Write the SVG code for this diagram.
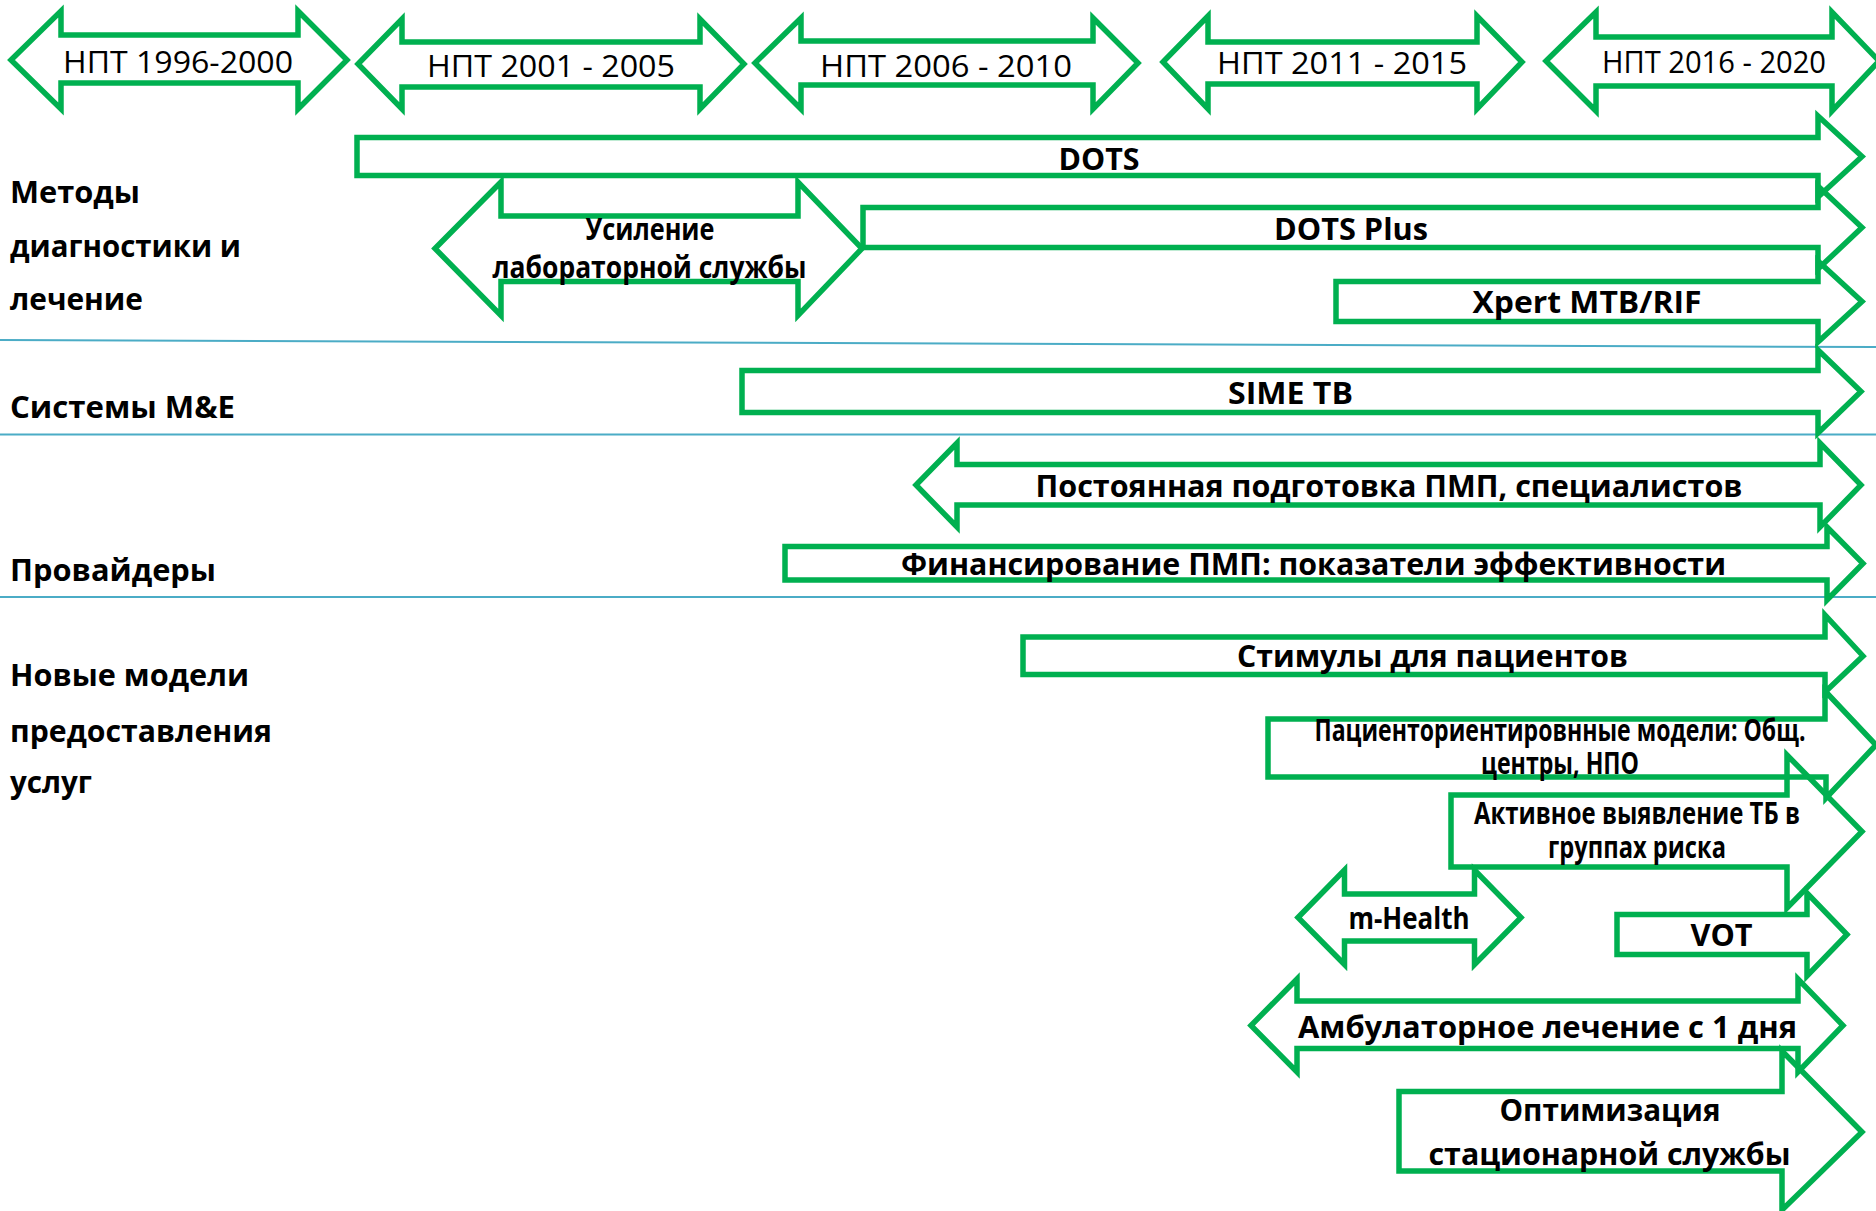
<svg xmlns="http://www.w3.org/2000/svg" width="1876" height="1211" viewBox="0 0 1876 1211">
<style>
.sep{stroke:#4BACC6;stroke-width:2;fill:none}
.arr{fill:none;stroke:#00B050;stroke-width:5.5;stroke-linejoin:miter;stroke-miterlimit:10}
.hd{font-family:"Open Sans","Liberation Sans",sans-serif;font-size:31px;fill:#000;text-anchor:middle}
.lab{font-family:"Open Sans","Liberation Sans",sans-serif;font-weight:bold;font-size:30px;fill:#000}
.bl{font-family:"Liberation Sans Narrow","Open Sans","Liberation Sans",sans-serif;font-weight:bold;font-size:30px;fill:#000;text-anchor:middle}
</style>
<rect width="1876" height="1211" fill="#fff"/>
<g id="separators">
<line class="sep" x1="0" y1="340" x2="1876" y2="347"/>
<line class="sep" x1="0" y1="434.5" x2="1876" y2="434.5"/>
<line class="sep" x1="0" y1="597" x2="1876" y2="597"/>
</g>
<g id="row-labels">
<text class="lab" x="10" y="203" textLength="130" lengthAdjust="spacingAndGlyphs">Методы</text>
<text class="lab" x="10" y="257" textLength="231" lengthAdjust="spacingAndGlyphs">диагностики и</text>
<text class="lab" x="10" y="310" textLength="133" lengthAdjust="spacingAndGlyphs">лечение</text>
<text class="lab" x="10" y="418" textLength="225" lengthAdjust="spacingAndGlyphs">Системы M&amp;E</text>
<text class="lab" x="10" y="581" textLength="206" lengthAdjust="spacingAndGlyphs">Провайдеры</text>
<text class="lab" x="10" y="686" textLength="239" lengthAdjust="spacingAndGlyphs">Новые модели</text>
<text class="lab" x="10" y="741.5" textLength="262" lengthAdjust="spacingAndGlyphs">предоставления</text>
<text class="lab" x="10" y="793" textLength="82" lengthAdjust="spacingAndGlyphs">услуг</text>
</g>
<g id="period-1996">
<path class="arr" d="M11,60 L61,11 L61,35 L298,35 L298,11 L347,60 L298,109 L298,83 L61,83 L61,109 Z"/>
<text class="hd" x="178" y="73" textLength="230" lengthAdjust="spacingAndGlyphs">НПТ 1996-2000</text>
</g>
<g id="period-2001">
<path class="arr" d="M358,64 L402,19 L402,42 L700,42 L700,19 L744,64 L700,109 L700,87 L402,87 L402,109 Z"/>
<text class="hd" x="551" y="77" textLength="248" lengthAdjust="spacingAndGlyphs">НПТ 2001 - 2005</text>
</g>
<g id="period-2006">
<path class="arr" d="M755,63 L801,18 L801,41 L1093,41 L1093,18 L1138,63 L1093,109 L1093,85 L801,85 L801,109 Z"/>
<text class="hd" x="946" y="77" textLength="252" lengthAdjust="spacingAndGlyphs">НПТ 2006 - 2010</text>
</g>
<g id="period-2011">
<path class="arr" d="M1163,62 L1208,16 L1208,42 L1477,42 L1477,16 L1522,62 L1477,109 L1477,84 L1208,84 L1208,109 Z"/>
<text class="hd" x="1342" y="74" textLength="250" lengthAdjust="spacingAndGlyphs">НПТ 2011 - 2015</text>
</g>
<g id="period-2016">
<path class="arr" d="M1546,61 L1596,12 L1596,37 L1832,37 L1832,12 L1879,61 L1832,111 L1832,86 L1596,86 L1596,111 Z"/>
<text class="hd" x="1714" y="73" font-size="29.5" textLength="224" lengthAdjust="spacingAndGlyphs">НПТ 2016 - 2020</text>
</g>
<g id="dots">
<path class="arr" d="M357,137.5 L1818,137.5 L1818,116 L1862,156.5 L1818,197 L1818,175.5 L357,175.5 Z"/>
<text class="bl" x="1099" y="170" textLength="81" lengthAdjust="spacingAndGlyphs">DOTS</text>
</g>
<g id="lab-strengthening">
<path class="arr" d="M435,248.5 L501,182 L501,216 L798,216 L798,182 L862,248.5 L798,315.5 L798,281.5 L501,281.5 L501,315.5 Z"/>
<text class="bl" x="650" y="240" font-size="25" textLength="129" lengthAdjust="spacingAndGlyphs">Усиление</text>
<text class="bl" x="649.5" y="278" font-size="25" textLength="314" lengthAdjust="spacingAndGlyphs">лабораторной службы</text>
</g>
<g id="dots-plus">
<path class="arr" d="M863,207.5 L1818,207.5 L1818,186 L1862,227.5 L1818,269 L1818,247.5 L863,247.5 Z"/>
<text class="bl" x="1351" y="239.5" textLength="154" lengthAdjust="spacingAndGlyphs">DOTS Plus</text>
</g>
<g id="xpert">
<path class="arr" d="M1336,281.5 L1818,281.5 L1818,261 L1862,301.5 L1818,342 L1818,321.5 L1336,321.5 Z"/>
<text class="bl" x="1587" y="313" textLength="229" lengthAdjust="spacingAndGlyphs">Xpert MTB/RIF</text>
</g>
<g id="sime-tb">
<path class="arr" d="M742,370.5 L1818,370.5 L1818,350 L1861,391.5 L1818,433 L1818,412.5 L742,412.5 Z"/>
<text class="bl" x="1290.5" y="404" textLength="125" lengthAdjust="spacingAndGlyphs">SIME TB</text>
</g>
<g id="training">
<path class="arr" d="M916,485 L957,443 L957,464.5 L1820,464.5 L1820,443 L1861,485 L1820,527 L1820,505 L957,505 L957,527 Z"/>
<text class="bl" x="1389" y="497" font-size="28" textLength="707" lengthAdjust="spacingAndGlyphs">Постоянная подготовка ПМП, специалистов</text>
</g>
<g id="financing">
<path class="arr" d="M785,546.5 L1827,546.5 L1827,527 L1863,563.5 L1827,600 L1827,580 L785,580 Z"/>
<text class="bl" x="1313.5" y="575" font-size="29" textLength="825" lengthAdjust="spacingAndGlyphs">Финансирование ПМП: показатели эффективности</text>
</g>
<g id="incentives">
<path class="arr" d="M1023,637 L1825,637 L1825,615 L1863,656 L1825,692 L1825,674.5 L1023,674.5 Z"/>
<text class="bl" x="1432.5" y="667" font-size="29" textLength="391" lengthAdjust="spacingAndGlyphs">Стимулы для пациентов</text>
</g>
<g id="patient-centered">
<path class="arr" d="M1268,719 L1825,719 L1825,691 L1876,745 L1826,798 L1826,777 L1268,777 Z"/>
<text class="bl" x="1560" y="741" font-size="22" textLength="491" lengthAdjust="spacingAndGlyphs">Пациенториентировнные модели: Общ.</text>
<text class="bl" x="1560" y="774" font-size="22" textLength="158" lengthAdjust="spacingAndGlyphs">центры, НПО</text>
</g>
<g id="active-detection">
<path class="arr" d="M1451,795 L1787,795 L1787,755 L1862,831.5 L1787,908 L1787,867 L1451,867 Z"/>
<text class="bl" x="1637" y="824" font-size="25" textLength="326" lengthAdjust="spacingAndGlyphs">Активное выявление ТБ в</text>
<text class="bl" x="1637" y="858" font-size="25" textLength="178" lengthAdjust="spacingAndGlyphs">группах риска</text>
</g>
<g id="m-health">
<path class="arr" d="M1298,917.5 L1344.5,870 L1344.5,894 L1474.5,894 L1474.5,870 L1521,917.5 L1474.5,964.5 L1474.5,941 L1344.5,941 L1344.5,964.5 Z"/>
<text class="bl" x="1409" y="929" font-size="26.5" textLength="121" lengthAdjust="spacingAndGlyphs">m-Health</text>
</g>
<g id="vot">
<path class="arr" d="M1617,914.5 L1807,914.5 L1807,893 L1847,934.5 L1807,976 L1807,954.5 L1617,954.5 Z"/>
<text class="bl" x="1721.5" y="946" textLength="62" lengthAdjust="spacingAndGlyphs">VOT</text>
</g>
<g id="outpatient">
<path class="arr" d="M1251,1025.5 L1297,979 L1297,1001 L1798,1001 L1798,979 L1843,1025.5 L1798,1072 L1798,1048.5 L1297,1048.5 L1297,1072 Z"/>
<text class="bl" x="1547.5" y="1037.5" textLength="499" lengthAdjust="spacingAndGlyphs">Амбулаторное лечение с 1 дня</text>
</g>
<g id="inpatient-optimization">
<path class="arr" d="M1399,1091.5 L1782,1091.5 L1782,1051 L1862,1132 L1782,1210 L1782,1171 L1399,1171 Z"/>
<text class="bl" x="1610" y="1121" textLength="221" lengthAdjust="spacingAndGlyphs">Оптимизация</text>
<text class="bl" x="1609.5" y="1165" textLength="362" lengthAdjust="spacingAndGlyphs">стационарной службы</text>
</g>
<g id="connectors"></g>
</svg>
